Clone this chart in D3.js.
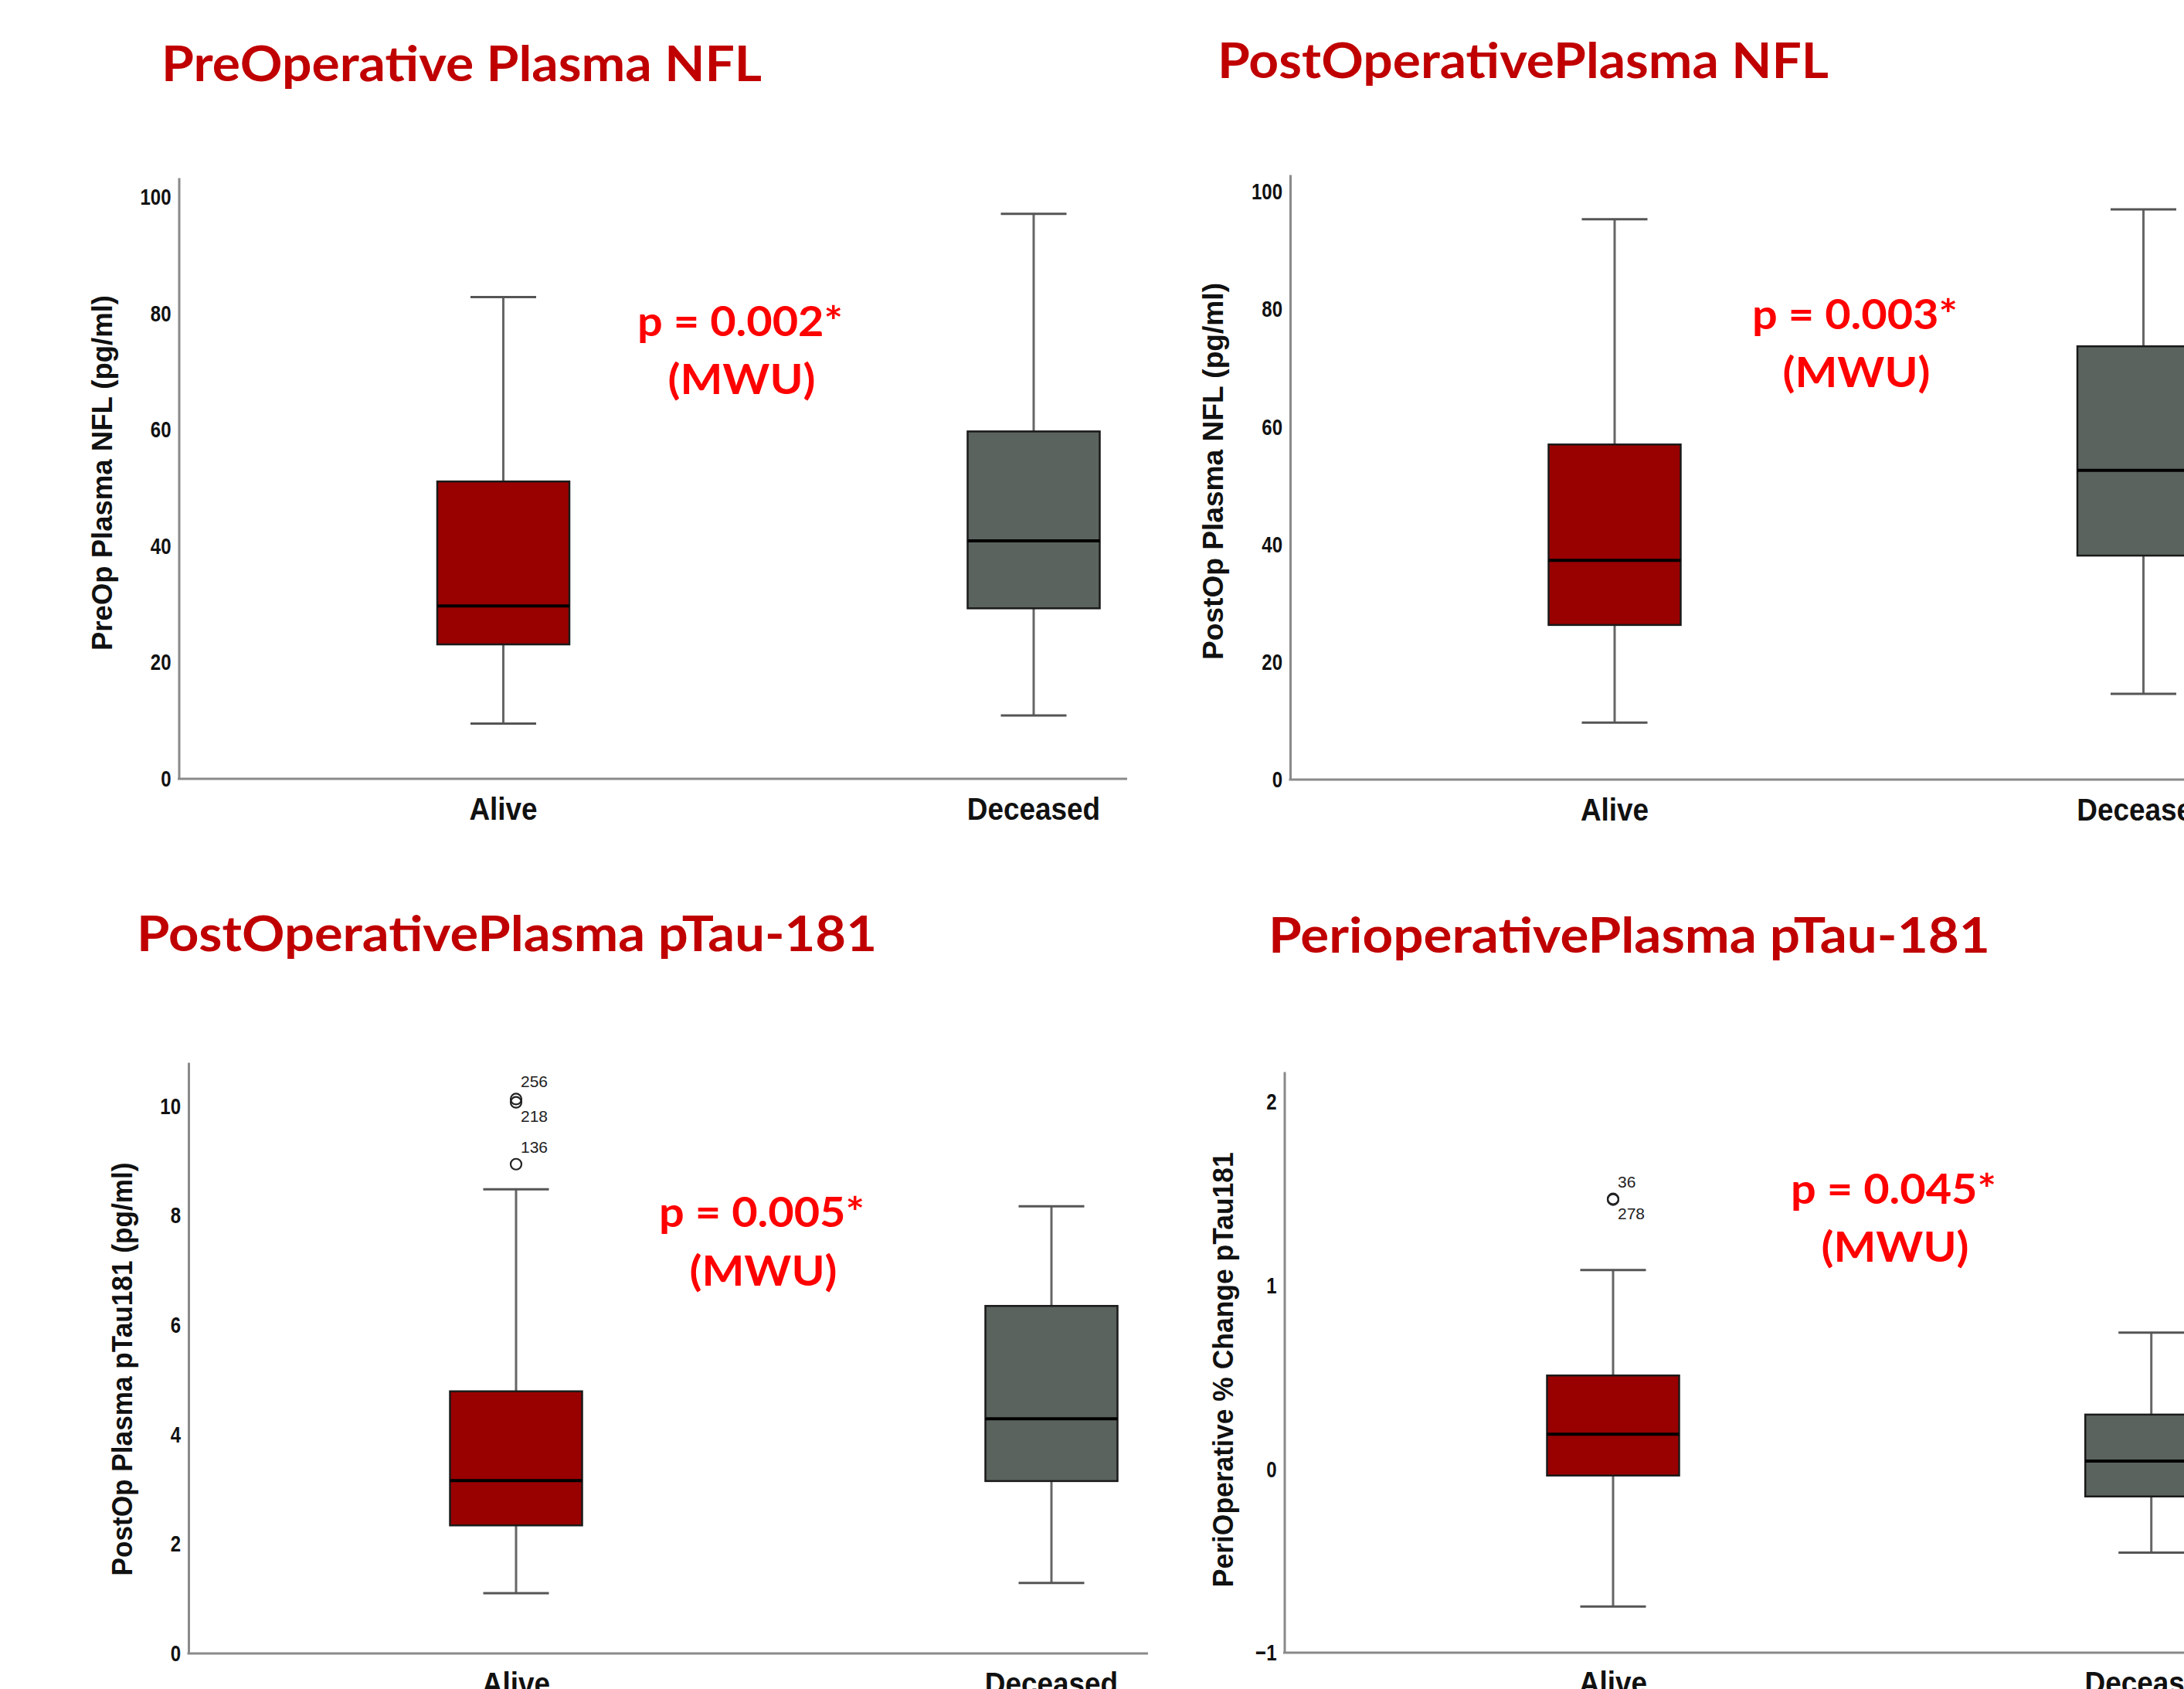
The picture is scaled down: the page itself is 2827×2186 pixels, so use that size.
<!DOCTYPE html>
<html>
<head>
<meta charset="utf-8">
<script src="https://d3js.org/d3.v7.min.js"></script>
<style>
  html, body { margin: 0; padding: 0; background: #fff; }
  svg { display: block; }
  .title { font-family: Lato, 'Open Sans', sans-serif; font-weight: 700; font-size: 64px; fill: #c00000; }
  .pval { font-family: Lato, 'Open Sans', sans-serif; font-weight: 700; font-size: 54px; fill: #ff0000; text-anchor: middle; }
  .tick text { font-family: 'Liberation Sans', Arial, sans-serif; font-weight: 700; font-size: 30px; fill: #111; }
  .cat { font-family: 'Liberation Sans', Arial, sans-serif; font-weight: 700; font-size: 41px; fill: #111; text-anchor: middle; }
  .ylab { font-family: 'Liberation Sans', Arial, sans-serif; font-weight: 700; font-size: 37px; fill: #111; text-anchor: middle; }
  .outlab { font-family: 'Liberation Sans', Arial, sans-serif; font-size: 21px; fill: #222; }
</style>
</head>
<body>
<svg id="chart" width="2827" height="2186"></svg>
<script>
const categories = ['Alive', 'Deceased'];
const boxColors = ['#990000', '#5b635e'];

// [low whisker, Q1, median, Q3, high whisker] per category
const preNflStats = [[9.5, 23.1, 29.7, 51.1, 82.8], [10.9, 29.3, 40.9, 59.7, 97.1]];
const postNflStats = [[9.7, 26.3, 37.3, 57.0, 95.3], [14.6, 38.1, 52.6, 73.7, 97.0]];
const postTauStats = [[1.10, 2.34, 3.16, 4.79, 8.48], [1.29, 3.15, 4.29, 6.35, 8.17]];
const periTauStats = [[-0.749, -0.035, 0.19, 0.51, 1.084], [-0.455, -0.149, 0.044, 0.297, 0.743]];

// outliers (Alive group only)
const postTauOutliers = [{ v: 10.13, id: 256 }, { v: 10.07, id: 218 }, { v: 8.94, id: 136 }];
const periTauOutliers = [{ v: 1.472, id: 36 }, { v: 1.468, id: 278 }];

const nflTicks = [0, 20, 40, 60, 80, 100];
const tauTicks = [0, 2, 4, 6, 8, 10];
const periTicks = [-1, 0, 1, 2];

const titles = ['PreOperative Plasma NFL', 'PostOperativePlasma NFL', 'PostOperativePlasma pTau-181', 'PerioperativePlasma pTau-181'];
const yLabels = ['PreOp Plasma NFL (pg/ml)', 'PostOp Plasma NFL (pg/ml)', 'PostOp Plasma pTau181 (pg/ml)', 'PeriOperative % Change pTau181'];
const pValues = ['p = 0.002*', 'p = 0.003*', 'p = 0.005*', 'p = 0.045*'];
const testName = '(MWU)';

// layout of each panel in page pixels
const panels = [
  { stats: preNflStats, outliers: [], ticks: nflTicks, domain: [0, 103.3],
    ox: 231.5, xEnd: 1459, x0: 651.5, x1: 1338, yTop: 230, yBottom: 1008,
    title: [209, 105, 777], ylab: [145, 612, 460], pv: [958, 435, 510] },
  { stats: postNflStats, outliers: [], ticks: nflTicks, domain: [0, 102.9],
    ox: 1670, xEnd: 2900, x0: 2090, x1: 2774.5, yTop: 226, yBottom: 1009,
    title: [1576, 101, 791], ylab: [1583, 610, 488], pv: [2401, 426, 501] },
  { stats: postTauStats, outliers: postTauOutliers, ticks: tauTicks, domain: [0, 10.8],
    ox: 244, xEnd: 1486, x0: 668, x1: 1361, yTop: 1375, yBottom: 2140,
    title: [177, 1231, 958], ylab: [170.5, 1772, 535], pv: [986, 1588, 1664] },
  { stats: periTauStats, outliers: periTauOutliers, ticks: periTicks, domain: [-1, 2.165],
    ox: 1662.5, xEnd: 2900, x0: 2088, x1: 2784.7, yTop: 1387, yBottom: 2139,
    title: [1642, 1233, 934], ylab: [1596, 1772.7, 563], pv: [2451, 1558, 1633] },
];

const boxWidth = 171;
const capWidth = 85;

const fitText = (sel, width) =>
  sel.attr('textLength', width).attr('lengthAdjust', 'spacingAndGlyphs');

const squeeze = (sel, sx) =>
  sel.each(function () {
    const w = this.getComputedTextLength();
    d3.select(this).attr('textLength', w * sx).attr('lengthAdjust', 'spacingAndGlyphs');
  });

const svg = d3.select('#chart');
svg.append('rect').attr('width', 2827).attr('height', 2186).attr('fill', '#fff');

const drawPanel = (p, i) => {
  const g = svg.append('g');
  const y = d3.scaleLinear().domain(p.domain).range([p.yBottom, p.yTop]);
  const x = d3.scalePoint().domain(categories).range([p.x0, p.x1]);

  g.append('text')
    .attr('class', 'title')
    .attr('x', p.title[0])
    .attr('y', p.title[1])
    .text(titles[i])
    .call(fitText, p.title[2]);

  // y axis without tick marks
  const yAxis = g.append('g')
    .attr('transform', `translate(${p.ox},0)`)
    .call(d3.axisLeft(y).tickValues(p.ticks).tickSize(0).tickPadding(10).tickFormat(d3.format('d')));
  yAxis.select('.domain').attr('stroke', '#8a8a8a').attr('stroke-width', 3);
  yAxis.selectAll('.tick text').call(squeeze, 0.8);

  g.append('line')
    .attr('x1', p.ox - 1.5).attr('x2', p.xEnd)
    .attr('y1', p.yBottom).attr('y2', p.yBottom)
    .attr('stroke', '#8a8a8a').attr('stroke-width', 3);

  // rotated label, positioned by its baseline
  g.append('text')
    .attr('class', 'ylab')
    .attr('transform', `translate(${p.ylab[0]},${p.ylab[1]}) rotate(-90)`)
    .text(yLabels[i])
    .call(fitText, p.ylab[2]);

  g.selectAll('.cat')
    .data(categories)
    .join('text')
    .attr('class', 'cat')
    .attr('x', (d) => x(d))
    .attr('y', p.yBottom + 53)
    .text((d) => d)
    .call(squeeze, 0.9);

  const boxes = g.selectAll('.box')
    .data(p.stats.map((s, k) => ({ cat: categories[k], s, color: boxColors[k] })))
    .join('g')
    .attr('class', 'box');

  // whiskers
  boxes.append('line')
    .attr('x1', (d) => x(d.cat)).attr('x2', (d) => x(d.cat))
    .attr('y1', (d) => y(d.s[0])).attr('y2', (d) => y(d.s[1]))
    .attr('stroke', '#666').attr('stroke-width', 3);
  boxes.append('line')
    .attr('x1', (d) => x(d.cat)).attr('x2', (d) => x(d.cat))
    .attr('y1', (d) => y(d.s[3])).attr('y2', (d) => y(d.s[4]))
    .attr('stroke', '#666').attr('stroke-width', 3);
  [0, 4].forEach((k) => {
    boxes.append('line')
      .attr('x1', (d) => x(d.cat) - capWidth / 2).attr('x2', (d) => x(d.cat) + capWidth / 2)
      .attr('y1', (d) => y(d.s[k])).attr('y2', (d) => y(d.s[k]))
      .attr('stroke', '#555').attr('stroke-width', 3);
  });

  boxes.append('rect')
    .attr('x', (d) => x(d.cat) - boxWidth / 2)
    .attr('width', boxWidth)
    .attr('y', (d) => y(d.s[3]))
    .attr('height', (d) => y(d.s[1]) - y(d.s[3]))
    .attr('fill', (d) => d.color)
    .attr('stroke', '#1a1a1a').attr('stroke-width', 2.5);

  boxes.append('line')
    .attr('x1', (d) => x(d.cat) - boxWidth / 2).attr('x2', (d) => x(d.cat) + boxWidth / 2)
    .attr('y1', (d) => y(d.s[2])).attr('y2', (d) => y(d.s[2]))
    .attr('stroke', '#000').attr('stroke-width', 4);

  // outliers with case labels; overlapping points get their label below
  let prevY = null;
  let prevAbove = false;
  p.outliers.forEach((o) => {
    const cx = x(categories[0]);
    const cy = y(o.v);
    g.append('circle')
      .attr('cx', cx).attr('cy', cy).attr('r', 7)
      .attr('fill', 'none').attr('stroke', '#222').attr('stroke-width', 2.2);
    const above = !(prevY !== null && Math.abs(cy - prevY) < 20 && prevAbove);
    g.append('text')
      .attr('class', 'outlab')
      .attr('x', cx + 6)
      .attr('y', above ? cy - 15 : cy + 25)
      .text(o.id);
    prevY = cy;
    prevAbove = above;
  });

  g.append('text')
    .attr('class', 'pval')
    .attr('x', p.pv[0])
    .attr('y', p.pv[1])
    .text(pValues[i])
    .call(fitText, 266);
  g.append('text')
    .attr('class', 'pval')
    .attr('x', p.pv[0] + 2)
    .attr('y', p.pv[2])
    .text(testName)
    .call(fitText, 191);
};

panels.forEach(drawPanel);
</script>
</body>
</html>
